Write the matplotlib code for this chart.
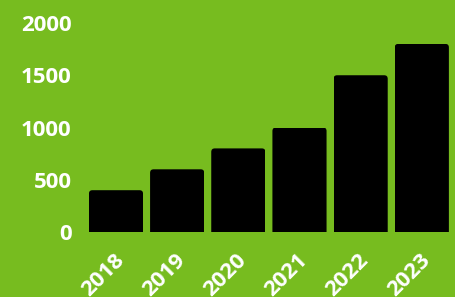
import matplotlib
matplotlib.use('Agg')
import matplotlib.pyplot as plt
import matplotlib.transforms as mtransforms
from matplotlib.patches import FancyBboxPatch

years = ['2018', '2019', '2020', '2021', '2022', '2023']
values = [400, 600, 800, 1000, 1500, 1800]
yticks = [0, 500, 1000, 1500, 2000]

GREEN = '#77bc1f'

plt.rcParams['font.family'] = ['Open Sans', 'DejaVu Sans']

fig = plt.figure(figsize=(4.56, 2.97), dpi=100, facecolor=GREEN)
ax = fig.add_axes([85.4 / 456, 1 - 232 / 297, 367 / 456, 209 / 297])
ax.set_facecolor(GREEN)

x = range(len(years))
bars = ax.bar(x, values, width=0.885, color='black', zorder=2)

ax.set_xlim(-0.5, len(years) - 0.5)
ax.set_ylim(0, 2000)

# round the top corners (about 3 px radius) by clipping each bar
r_px = 3.5
px_x = 367 / len(years)      # pixels per x unit
px_y = 209 / 2000            # pixels per y unit
for bar in bars:
    clip = FancyBboxPatch((bar.get_x(), -200), bar.get_width(), bar.get_height() + 200,
                          boxstyle=f'round,pad=0,rounding_size={r_px / px_x}',
                          mutation_aspect=px_x / px_y,
                          transform=ax.transData, facecolor='none', edgecolor='none')
    ax.add_patch(clip)
    bar.set_clip_path(clip)

ax.set_yticks(yticks)
ax.set_yticklabels([str(t) for t in yticks])
ax.set_xticks(list(x))
ax.set_xticklabels(years, rotation=45, ha='right', va='center', rotation_mode='anchor')

ax.tick_params(axis='both', length=0, labelcolor='white', labelsize=16)
ax.tick_params(axis='y', pad=10)
ax.tick_params(axis='x', pad=14)
for lbl in ax.get_xticklabels() + ax.get_yticklabels():
    lbl.set_fontweight('bold')

# nudge the rotated year labels a little right and down
shift = mtransforms.ScaledTranslation(0.05, -0.06, fig.dpi_scale_trans)
for lbl in ax.get_xticklabels():
    lbl.set_transform(lbl.get_transform() + shift)

for s in ax.spines.values():
    s.set_visible(False)

fig.savefig('out.png', dpi=100, facecolor=GREEN)
